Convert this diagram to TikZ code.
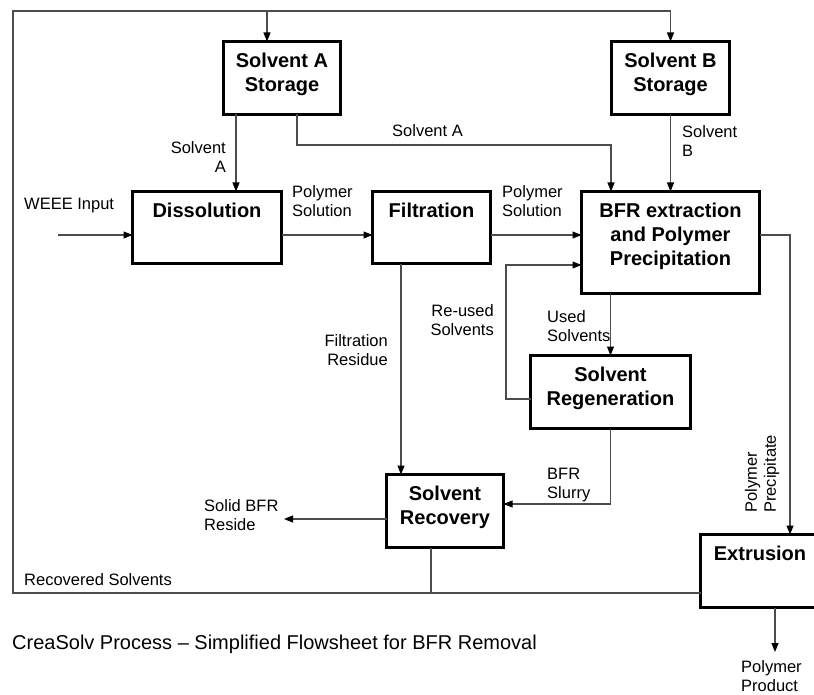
\documentclass[tikz,border=0pt]{standalone}
\usepackage{fontspec}
\setmainfont{Liberation Sans}
\usetikzlibrary{arrows.meta,positioning}

\tikzset{
    unitbox/.style={draw, line width=3pt, outer sep=0pt, inner sep=0pt},
    boxtitle/.style={font=\fontsize{20}{24}\selectfont\bfseries, align=center, inner sep=0pt},
    flow/.style={draw=black!70, line width=1.1pt},
    feed/.style={flow, -{Triangle[length=9pt,width=7pt,color=black]}},
    tag/.style={font=\fontsize{16.5}{19}\selectfont, inner sep=0pt}
}

\begin{document}
\begin{tikzpicture}[x=1pt,y=-1pt]
\useasboundingbox (0,0) rectangle (814,695);

% Process units
\node[unitbox, minimum width=117pt, minimum height=73pt] (sa) at (282,78) {};
\node[unitbox, minimum width=118pt, minimum height=73pt] (sb) at (670.5,78) {};
\node[unitbox, minimum width=149pt, minimum height=72pt] (dis) at (207,227.5) {};
\node[unitbox, minimum width=118pt, minimum height=72pt] (fil) at (431.5,227.5) {};
\node[unitbox, minimum width=178pt, minimum height=102pt] (bfr) at (670.5,242.5) {};
\node[unitbox, minimum width=160pt, minimum height=73pt] (reg) at (610.5,392) {};
\node[unitbox, minimum width=117pt, minimum height=73pt] (rec) at (445,511) {};
\node[unitbox, minimum width=119pt, minimum height=73pt] (ex) at (760,571) {};

\node[boxtitle, below=11pt of sa.north] (sa-t) {Solvent A\\Storage};
\node[boxtitle, below=11pt of sb.north] (sb-t) {Solvent B\\Storage};
\node[boxtitle, below=11pt of dis.north] (dis-t) {Dissolution};
\node[boxtitle, below=11pt of fil.north] (fil-t) {Filtration};
\node[boxtitle, below=11pt of bfr.north] (bfr-t) {BFR extraction\\and Polymer\\Precipitation};
\node[boxtitle, below=11pt of reg.north] (reg-t) {Solvent\\Regeneration};
\node[boxtitle, below=11pt of rec.north] (rec-t) {Solvent\\Recovery};
\node[boxtitle, below=11pt of ex.north] (ex-t) {Extrusion};

% Recovered solvent loop
\coordinate (rs) at (431,593);
\coordinate (lp-bl) at (13,593);
\coordinate (lp-tl) at (13,11);
\coordinate (lp-tr) at (670.5,11);
\coordinate (lp-a) at (267,11);
\draw[flow] (rs |- rec.south) -- (rs);
\draw[feed] (rs -| ex.west) -- (lp-bl) -- (lp-tl) -- (lp-tr) -- (sb.north);
\draw[feed] (lp-a) -- (lp-a |- sa.north);

% Solvent feeds
\coordinate (sa-j) at (611,145);
\draw[feed] ([xshift=-46pt]sa.south) -- ([xshift=-46pt]sa.south |- dis.north);
\draw[feed] ([xshift=15pt]sa.south) |- (sa-j) -- (sa-j |- bfr.north);
\draw[feed] (sb.south) -- (sb.south |- bfr.north);

% Main line
\coordinate (weee) at (58,235);
\draw[feed] (weee) -- (weee -| dis.west);
\draw[feed] (weee -| dis.east) -- (weee -| fil.west);
\draw[feed] (weee -| fil.east) -- (weee -| bfr.west);

% Residue and solvent streams
\coordinate (ru) at (506,399);
\coordinate (sl) at (610.5,504);
\coordinate (sbfr) at (284,519);
\draw[feed] ([xshift=-30.5pt]fil.south) -- ([xshift=-30.5pt]fil.south |- rec.north);
\draw[feed] (reg.north |- bfr.south) -- (reg.north);
\draw[feed] (ru -| reg.west) -- (ru) |- ([yshift=-22.5pt]bfr.west);
\draw[feed] (reg.south) -- (sl) -- (sl -| rec.east);
\draw[feed] (sbfr -| rec.west) -- (sbfr);

% Polymer out
\coordinate (pp) at (790,235);
\coordinate (prod) at (775,652);
\draw[feed] (pp -| bfr.east) -- (pp) -- (pp |- ex.north);
\draw[feed] (prod |- ex.south) -- (prod);

% Stream labels
\node[tag, anchor=west] (l-weee) at (24,206) {WEEE Input};
\node[tag, anchor=west, align=left] (l-ps1) at (292,201) {Polymer\\Solution};
\node[tag, anchor=west, align=left] (l-ps2) at (502,201) {Polymer\\Solution};
\node[tag, anchor=east, align=right] (l-sa1) at (226,157) {Solvent\\A};
\node[tag, anchor=west] (l-sa2) at (392,131) {Solvent A};
\node[tag, anchor=west, align=left] (l-sb) at (682,141) {Solvent\\B};
\node[tag, anchor=east, align=right] (l-fr) at (388,350) {Filtration\\Residue};
\node[tag, anchor=east, align=right] (l-ru) at (494,320) {Re-used\\Solvents};
\node[tag, anchor=west, align=left] (l-us) at (547,326) {Used\\Solvents};
\node[tag, anchor=west, align=left] (l-sl) at (547,485) {BFR\\Slurry};
\node[tag, anchor=west, align=left] (l-sbfr) at (204,515) {Solid BFR\\Reside};
\node[tag, anchor=west] (l-rs) at (24,580) {Recovered Solvents};
\node[tag, anchor=west, align=left, rotate=90] (l-pp) at (762,513) {Polymer\\Precipitate};
\node[tag, anchor=west, align=left] (l-prod) at (741,676) {Polymer\\Product};

% Caption
\node[anchor=west, inner sep=0pt, font=\fontsize{20}{24}\selectfont] (cap) at (12,644)
    {CreaSolv Process -- Simplified Flowsheet for BFR Removal};

\end{tikzpicture}
\end{document}
